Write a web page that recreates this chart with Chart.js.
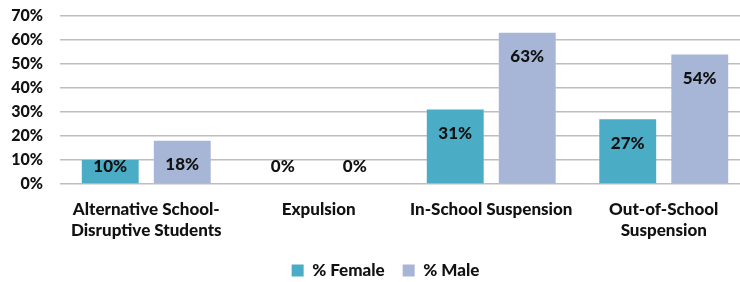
<!DOCTYPE html>
<html>
<head>
<meta charset="utf-8">
<script src="https://cdn.jsdelivr.net/npm/chart.js@4"></script>
<style>
  html, body { margin: 0; padding: 0; background: #fff; overflow: hidden; }
  #wrap { width: 750px; height: 289px; }
</style>
</head>
<body>
<div id="wrap"><canvas id="chart" width="750" height="289"></canvas></div>
<script>
  const CATEGORIES = [
    ['Alternative School-', 'Disruptive Students'],
    'Expulsion',
    'In-School Suspension',
    ['Out-of-School', 'Suspension']
  ];
  const FEMALE = [10, 0, 31, 27];
  const MALE = [18, 0, 63, 54];
  const Y_MIN = 0;
  const Y_MAX = 70;
  const Y_STEP = 10;

  const FONT = 'Lato, "Open Sans", sans-serif';

  // labels inside the top of each bar, pushed up for short bars
  const barLabels = {
    id: 'barLabels',
    afterDatasetsDraw(chart) {
      const ctx = chart.ctx;
      ctx.save();
      ctx.font = '900 17px ' + FONT;
      ctx.fillStyle = '#111';
      ctx.textAlign = 'center';
      ctx.textBaseline = 'middle';
      chart.data.datasets.forEach((ds, i) => {
        chart.getDatasetMeta(i).data.forEach((bar, j) => {
          const y = Math.min(bar.y + 24, bar.base - 17);
          ctx.fillText(ds.data[j] + '%', bar.x, y);
        });
      });
      ctx.restore();
    }
  };

  // the original legend sits a little right of the canvas centre
  const legendShift = {
    id: 'legendShift',
    afterLayout(chart) {
      const lg = chart.legend;
      lg.left += 21;
      lg.width = lg.right - lg.left;
    }
  };

  new Chart(document.getElementById('chart').getContext('2d'), {
    type: 'bar',
    data: {
      labels: CATEGORIES,
      datasets: [
        {
          label: '% Female',
          data: FEMALE,
          backgroundColor: '#4BACC6',
          categoryPercentage: 0.835,
          barPercentage: 0.79
        },
        {
          label: '% Male',
          data: MALE,
          backgroundColor: '#A7B6D6',
          categoryPercentage: 0.835,
          barPercentage: 0.79
        }
      ]
    },
    options: {
      responsive: false,
      animation: false,
      layout: { padding: { top: 16, right: 0, bottom: 0, left: 0 } },
      plugins: {
        legend: {
          position: 'bottom',
          labels: {
            boxWidth: 12,
            boxHeight: 12,
            padding: 18,
            color: '#111',
            font: { family: FONT, size: 17, weight: 900 }
          }
        },
        tooltip: { enabled: false }
      },
      scales: {
        x: {
          afterFit(scale) { scale.height = 60; },
          grid: { display: false, drawTicks: false },
          border: { display: false },
          ticks: {
            color: '#111',
            padding: 15,
            maxRotation: 0,
            font: { family: FONT, size: 17, weight: 900, lineHeight: 1.24 }
          }
        },
        y: {
          min: Y_MIN,
          max: Y_MAX,
          afterFit(scale) {
            scale.width = 60;
            scale.paddingTop = 0;
            scale.paddingBottom = 0;
          },
          border: { display: false },
          grid: { color: '#BEBEBE', lineWidth: 1.5, drawTicks: false },
          ticks: {
            stepSize: Y_STEP,
            color: '#111',
            padding: 17,
            font: { family: FONT, size: 16, weight: 900 },
            callback: v => v + '%'
          }
        }
      }
    },
    plugins: [barLabels, legendShift]
  });
</script>
</body>
</html>
